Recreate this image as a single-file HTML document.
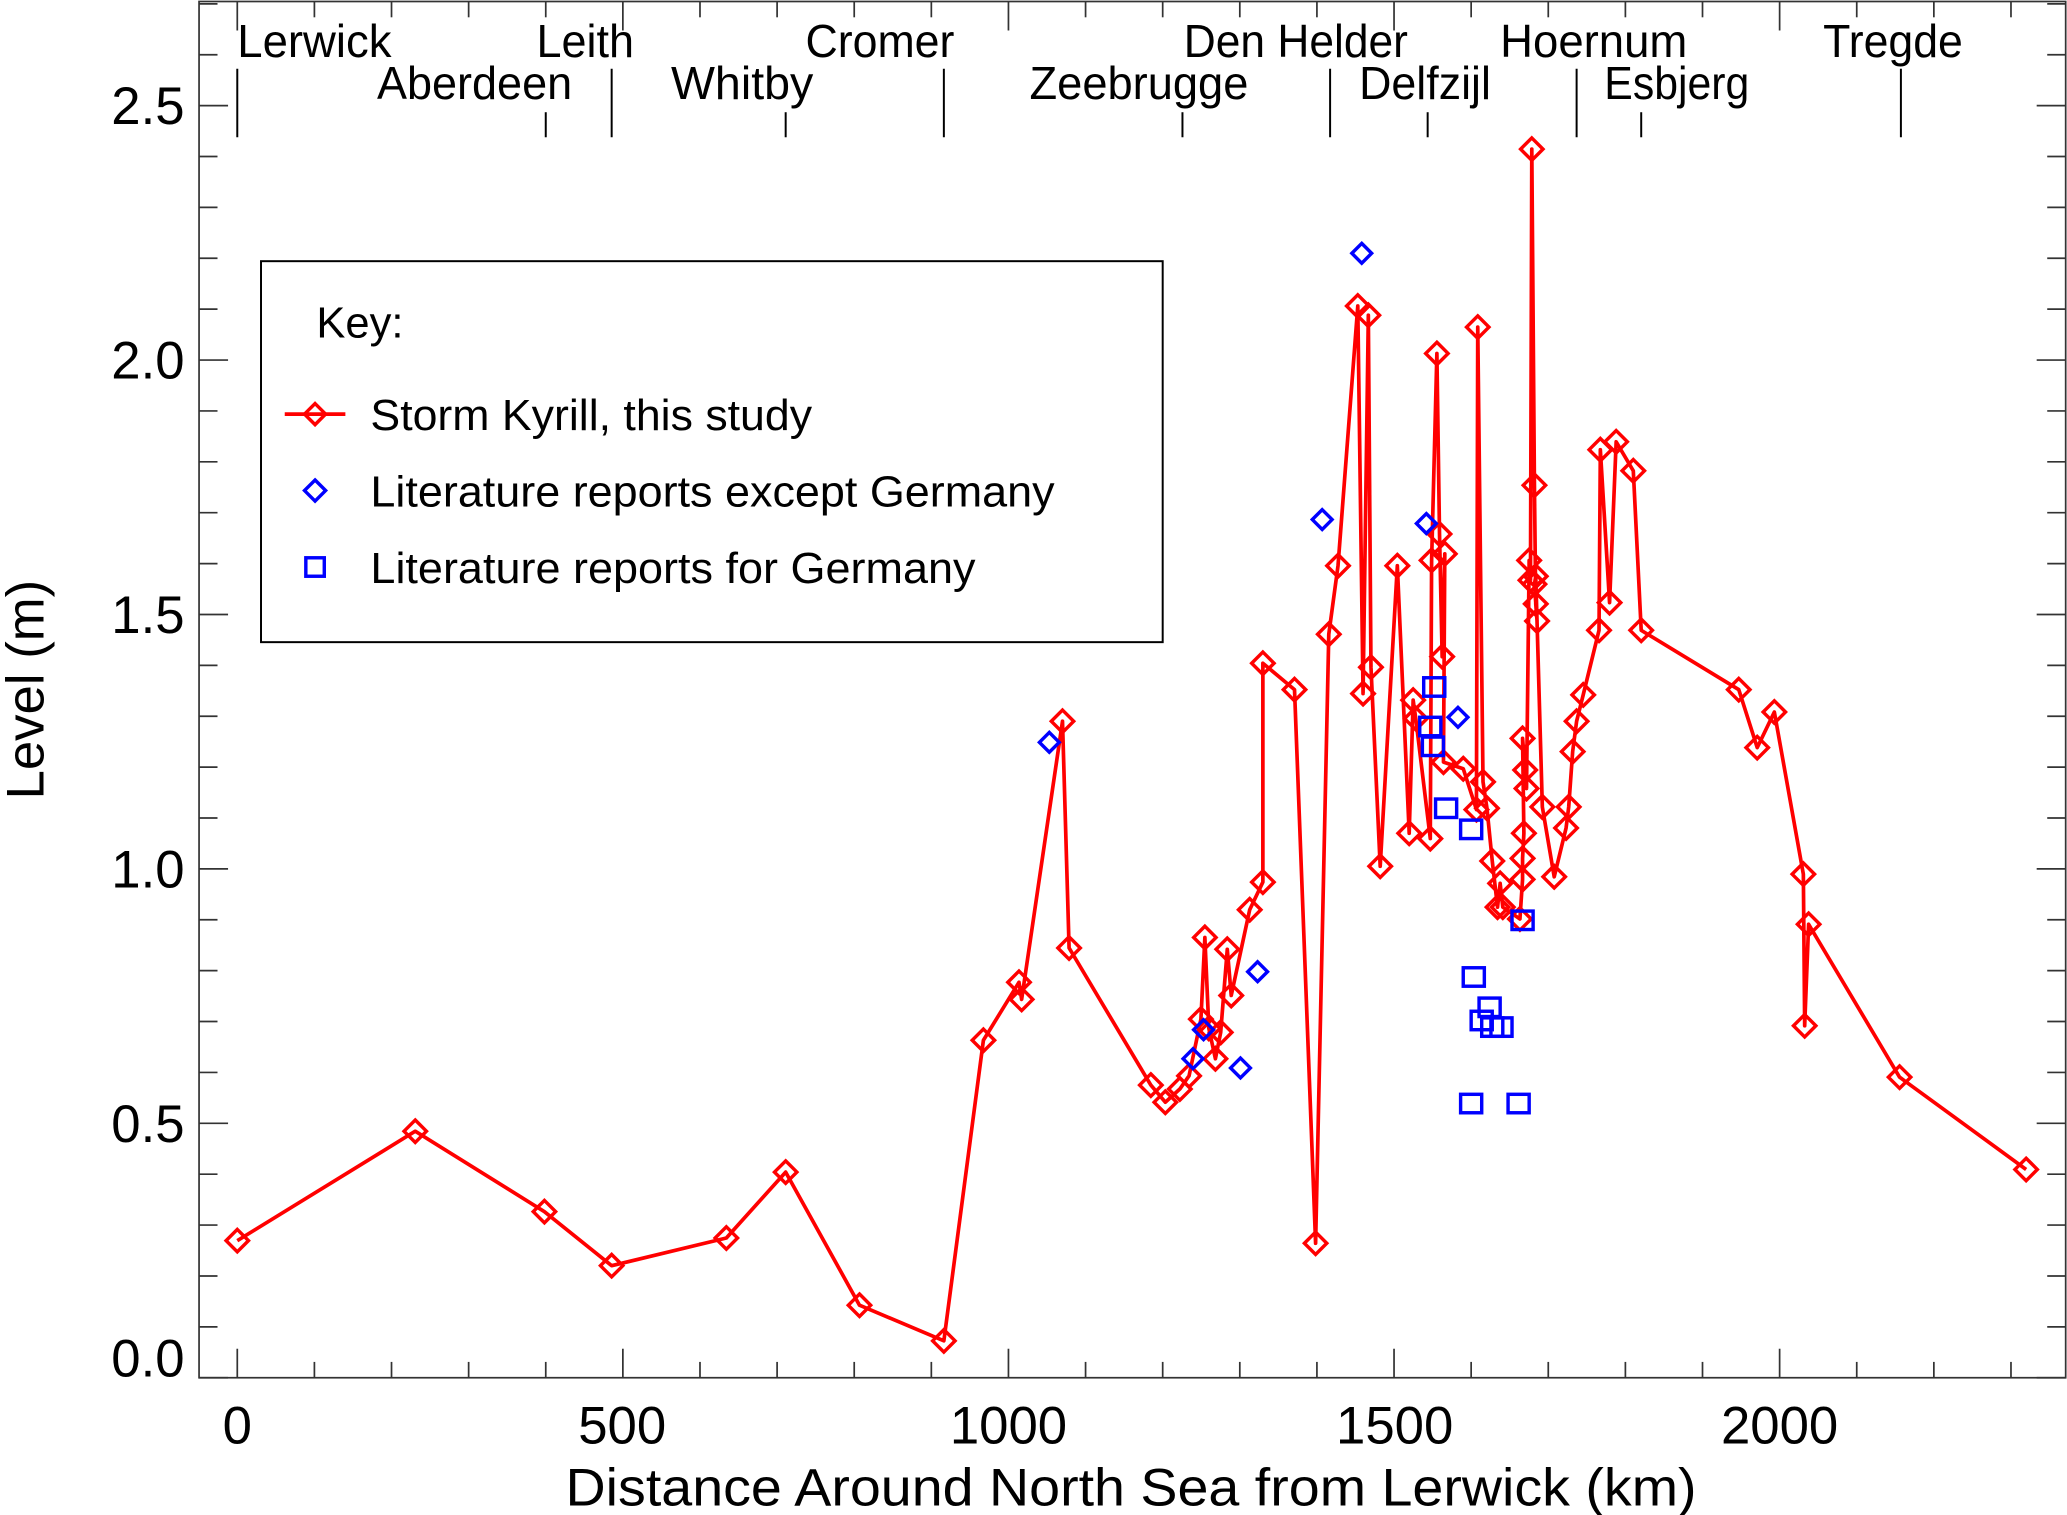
<!DOCTYPE html>
<html><head><meta charset="utf-8"><style>
html,body{margin:0;padding:0;background:#fff;}
svg{display:block;}
text{font-family:"Liberation Sans",sans-serif;fill:#000;}
</style></head><body>
<svg width="2067" height="1515" viewBox="0 0 1568 1149" xmlns="http://www.w3.org/2000/svg">
<rect x="151" y="1" width="1416" height="1044" fill="none" stroke="#333" stroke-width="1.3"/>
<g id="ticks" stroke="#333" stroke-width="1.3"></g>
<g font-size="35" text-anchor="start">
<text x="180" y="43" textLength="117" lengthAdjust="spacingAndGlyphs">Lerwick</text>
<text x="286" y="75" textLength="148" lengthAdjust="spacingAndGlyphs">Aberdeen</text>
<text x="407" y="43" textLength="74" lengthAdjust="spacingAndGlyphs">Leith</text>
<text x="509" y="75" textLength="108" lengthAdjust="spacingAndGlyphs">Whitby</text>
<text x="611" y="43" textLength="113" lengthAdjust="spacingAndGlyphs">Cromer</text>
<text x="781" y="75" textLength="166" lengthAdjust="spacingAndGlyphs">Zeebrugge</text>
<text x="898" y="43" textLength="170" lengthAdjust="spacingAndGlyphs">Den Helder</text>
<text x="1031" y="75" textLength="100" lengthAdjust="spacingAndGlyphs">Delfzijl</text>
<text x="1138" y="43" textLength="142" lengthAdjust="spacingAndGlyphs">Hoernum</text>
<text x="1217" y="75" textLength="110" lengthAdjust="spacingAndGlyphs">Esbjerg</text>
<text x="1383" y="43" textLength="106" lengthAdjust="spacingAndGlyphs">Tregde</text>
</g>
<g stroke="#000" stroke-width="1.5">
<line x1="180" y1="52" x2="180" y2="104"/><line x1="414" y1="85" x2="414" y2="104"/>
<line x1="464" y1="52" x2="464" y2="104"/><line x1="596" y1="85" x2="596" y2="104"/>
<line x1="716" y1="52" x2="716" y2="104"/><line x1="897" y1="85" x2="897" y2="104"/>
<line x1="1009" y1="52" x2="1009" y2="104"/><line x1="1083" y1="85" x2="1083" y2="104"/>
<line x1="1196" y1="52" x2="1196" y2="104"/><line x1="1245" y1="85" x2="1245" y2="104"/>
<line x1="1442" y1="52" x2="1442" y2="104"/>
</g>
<g font-size="40" text-anchor="end">
<text x="140" y="1044">0.0</text><text x="140" y="866">0.5</text><text x="140" y="673">1.0</text>
<text x="140" y="480">1.5</text><text x="140" y="287">2.0</text><text x="140" y="94">2.5</text>
</g>
<g font-size="40" text-anchor="middle">
<text x="180" y="1095">0</text><text x="472" y="1095">500</text><text x="765" y="1095">1000</text>
<text x="1058" y="1095">1500</text><text x="1350" y="1095">2000</text>
</g>
<text x="858" y="1142" font-size="40" textLength="858" lengthAdjust="spacingAndGlyphs" text-anchor="middle">Distance Around North Sea from Lerwick (km)</text>
<text transform="translate(33,523) rotate(-90)" font-size="40" text-anchor="middle">Level (m)</text>
<rect x="198" y="198" width="684" height="289" fill="#fff" stroke="#000" stroke-width="1.5"/>
<text x="240" y="256" font-size="33">Key:</text>
<line x1="216" y1="314" x2="262" y2="314" stroke="#f00" stroke-width="2.8"/>
<path d="M239,306 L247,314 L239,322 L231,314 Z" fill="none" stroke="#f00" stroke-width="2.6"/>
<text x="281" y="326" font-size="33" textLength="335" lengthAdjust="spacingAndGlyphs">Storm Kyrill, this study</text>
<path d="M239,364 L247,372 L239,380 L231,372 Z" fill="none" stroke="#00f" stroke-width="2.6"/>
<text x="281" y="384" font-size="33" textLength="519" lengthAdjust="spacingAndGlyphs">Literature reports except Germany</text>
<rect x="232" y="423" width="14" height="14" fill="none" stroke="#00f" stroke-width="2.6"/>
<text x="281" y="442" font-size="33" textLength="459" lengthAdjust="spacingAndGlyphs">Literature reports for Germany</text>
<g id="series"></g>
</svg>
<script>
var ns="http://www.w3.org/2000/svg";
var t=document.getElementById("ticks");
function L(x1,y1,x2,y2){var l=document.createElementNS(ns,"line");l.setAttribute("x1",x1);l.setAttribute("y1",y1);l.setAttribute("x2",x2);l.setAttribute("y2",y2);t.appendChild(l);}
for(var k=0;k<=23;k++){var x=180+k*58.5;var big=k%5==0;L(x,1045,x,1045-(big?22:12));L(x,1,x,1+(big?22:12));}
for(var v=0;v<=27;v++){var y=1045-v*38.6;if(y<2)continue;var big=v%5==0;L(151,y,151+(big?22:14),y);L(1567,y,1567-(big?22:14),y);}
var R=[[180,941],[315,858],[413,919],[464,960],[551,939],[596,889],[652,990],[716,1017],[746,789],[773,745],[775,758],[806,547],[811,719],[873,823],[884,836],[895,826],[902,816],[911,773],[914,711],[917,780],[922,803],[926,783],[931,720],[934,755],[948,690],[958,669],[958,503],[982,523],[998,943],[1008,481],[1015,429],[1030,232],[1034,526],[1038,239],[1040,506],[1047,657],[1060,429],[1069,632],[1072,531],[1074,545],[1085,636],[1086,425],[1090,268],[1092,405],[1094,498],[1096,420],[1095,578],[1110,583],[1120,614],[1121,248],[1125,593],[1128,613],[1132,653],[1136,688],[1138,670],[1140,688],[1153,697],[1155,667],[1155,651],[1156,632],[1155,560],[1157,584],[1158,598],[1160,425],[1161,440],[1162,113],[1164,368],[1165,458],[1166,471],[1164,443],[1165,437],[1170,612],[1179,665],[1188,628],[1190,612],[1193,570],[1196,547],[1201,527],[1213,478],[1214,341],[1221,457],[1226,335],[1239,357],[1245,478],[1319,523],[1333,567],[1346,540],[1368,663],[1369,778],[1372,701],[1441,817],[1537,887]];
var s=document.getElementById("series");
var p=document.createElementNS(ns,"polyline");p.setAttribute("points",R.map(function(a){return a.join(",")}).join(" "));p.setAttribute("fill","none");p.setAttribute("stroke","#f00");p.setAttribute("stroke-width","2.8");p.setAttribute("stroke-linejoin","round");s.appendChild(p);
function D(x,y,c,r){var q=document.createElementNS(ns,"path");q.setAttribute("d","M"+x+","+(y-r)+"L"+(x+r)+","+y+"L"+x+","+(y+r)+"L"+(x-r)+","+y+"Z");q.setAttribute("fill","none");q.setAttribute("stroke",c);q.setAttribute("stroke-width","2.6");s.appendChild(q);}
R.forEach(function(a){D(a[0],a[1],"#f00",8.5);});
[[796,563],[905,803],[913,781],[941,810],[954,737],[1003,394],[1033,192],[1082,397],[1106,544]].forEach(function(a){D(a[0],a[1],"#00f",7.5);});
[[1088,521],[1085,551],[1087,566],[1097,613],[1116,629],[1118,741],[1124,774],[1130,764],[1132,779],[1139,779],[1155,698],[1116,837],[1152,837]].forEach(function(a){var r=document.createElementNS(ns,"rect");r.setAttribute("x",a[0]-8);r.setAttribute("y",a[1]-7);r.setAttribute("width",16);r.setAttribute("height",14);r.setAttribute("fill","none");r.setAttribute("stroke","#00f");r.setAttribute("stroke-width","2.6");s.appendChild(r);});
</script>
</body></html>
